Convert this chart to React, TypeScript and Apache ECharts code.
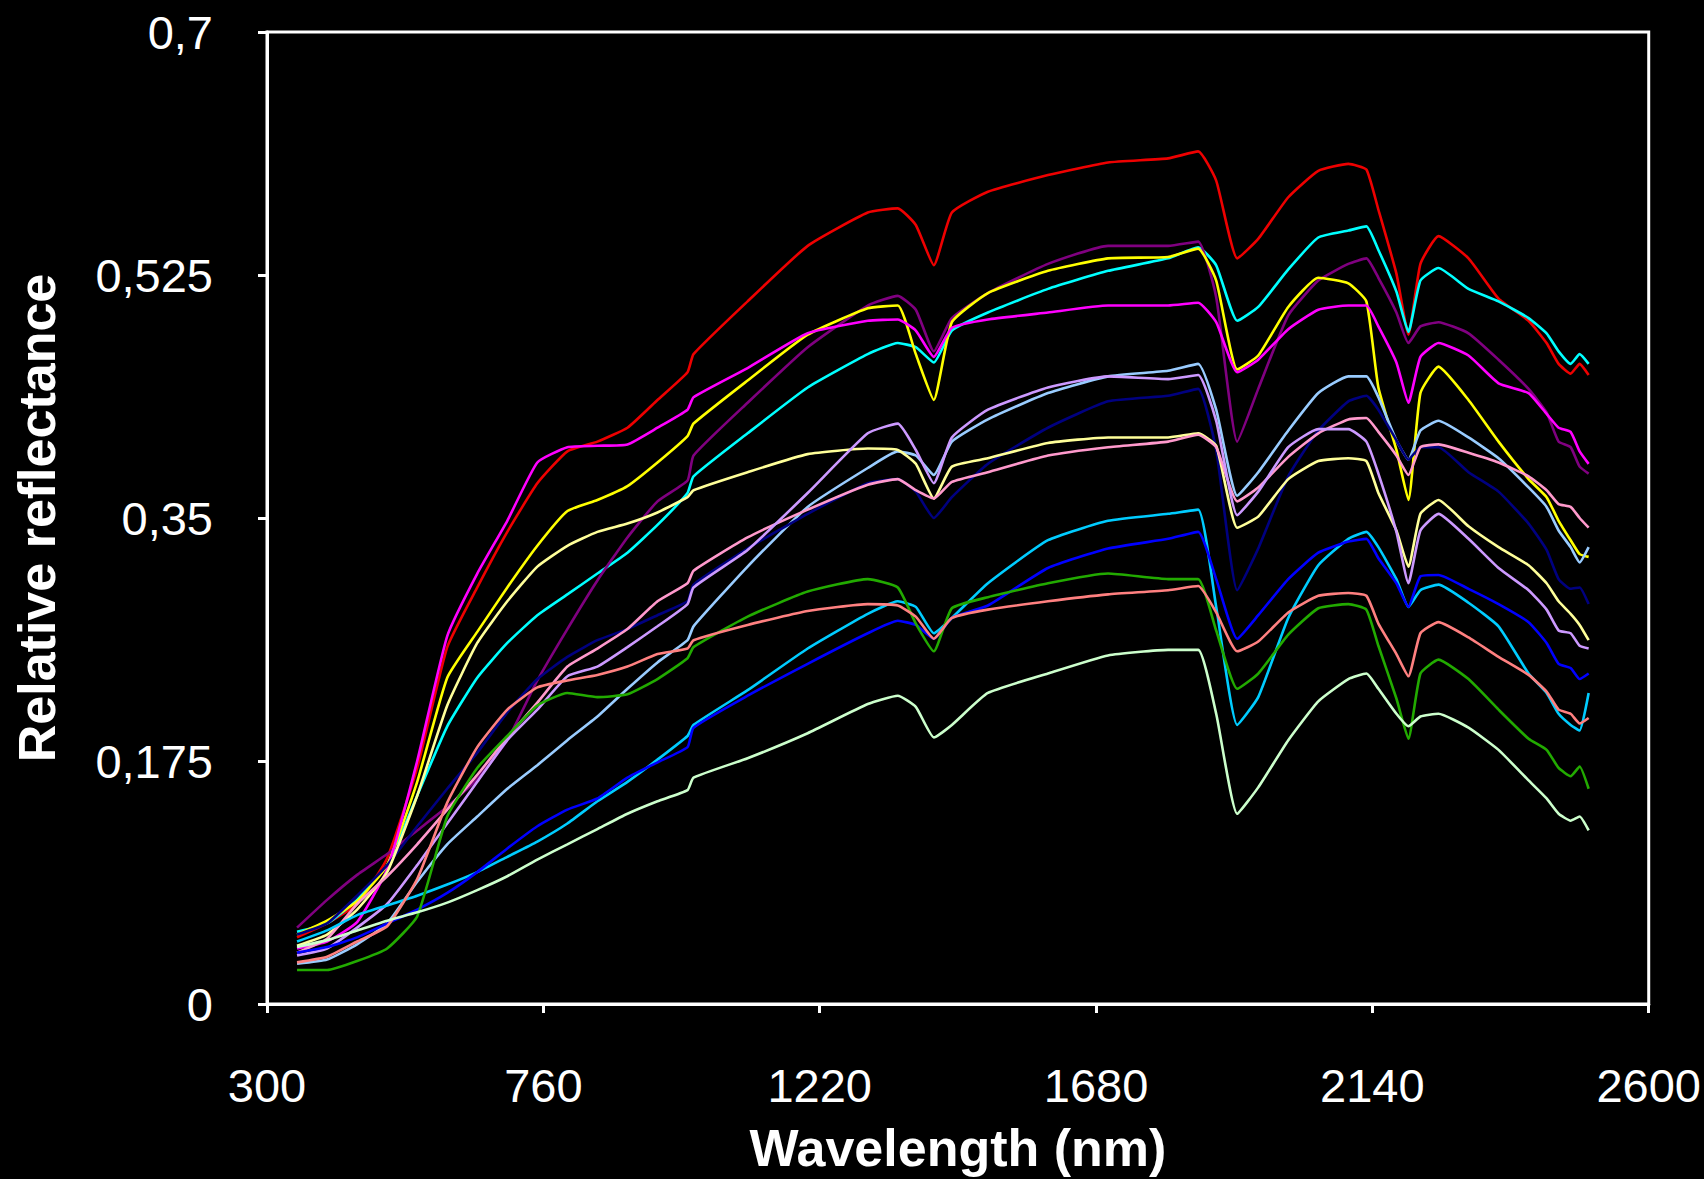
import React, { useEffect, useRef } from "react";
import * as echarts from "echarts";

const wavelengths = [350, 400, 450, 500, 550, 600, 650, 700, 750, 800, 850, 900, 950, 1000, 1010, 1100, 1200, 1300, 1350, 1380, 1410, 1440, 1500, 1600, 1700, 1800, 1850, 1880, 1915, 1950, 2000, 2050, 2100, 2130, 2150, 2180, 2200, 2220, 2250, 2300, 2350, 2400, 2430, 2450, 2470, 2485, 2500];

const xTickValues = [300, 760, 1220, 1680, 2140, 2600];

const red = [0.048, 0.058, 0.072, 0.105, 0.17, 0.257, 0.3, 0.34, 0.375, 0.398, 0.405, 0.415, 0.435, 0.455, 0.468, 0.506, 0.546, 0.57, 0.573, 0.561, 0.532, 0.57, 0.585, 0.597, 0.606, 0.609, 0.614, 0.593, 0.537, 0.551, 0.581, 0.6, 0.605, 0.601, 0.572, 0.526, 0.482, 0.533, 0.553, 0.537, 0.508, 0.492, 0.476, 0.461, 0.454, 0.461, 0.453];
const cyan = [0.052, 0.058, 0.075, 0.1, 0.15, 0.2, 0.235, 0.26, 0.28, 0.295, 0.31, 0.325, 0.345, 0.368, 0.38, 0.411, 0.444, 0.468, 0.476, 0.473, 0.462, 0.485, 0.498, 0.515, 0.528, 0.537, 0.545, 0.532, 0.492, 0.502, 0.529, 0.552, 0.557, 0.56, 0.543, 0.513, 0.484, 0.521, 0.53, 0.515, 0.506, 0.494, 0.483, 0.47, 0.461, 0.468, 0.461];
const purple = [0.055, 0.075, 0.093, 0.108, 0.125, 0.142, 0.162, 0.19, 0.233, 0.27, 0.305, 0.336, 0.362, 0.377, 0.395, 0.433, 0.473, 0.503, 0.51, 0.5, 0.47, 0.494, 0.512, 0.533, 0.546, 0.546, 0.549, 0.509, 0.405, 0.443, 0.496, 0.521, 0.533, 0.537, 0.523, 0.498, 0.476, 0.488, 0.491, 0.483, 0.464, 0.443, 0.426, 0.405, 0.401, 0.387, 0.382];
const yellow = [0.05, 0.06, 0.074, 0.1, 0.16, 0.235, 0.268, 0.3, 0.33, 0.355, 0.363, 0.373, 0.39, 0.409, 0.418, 0.449, 0.482, 0.501, 0.503, 0.468, 0.435, 0.491, 0.512, 0.528, 0.537, 0.538, 0.544, 0.521, 0.457, 0.467, 0.502, 0.523, 0.519, 0.506, 0.444, 0.399, 0.363, 0.44, 0.459, 0.435, 0.405, 0.378, 0.365, 0.348, 0.334, 0.324, 0.322];
const magenta = [0.04, 0.045, 0.059, 0.097, 0.175, 0.265, 0.31, 0.348, 0.39, 0.401, 0.402, 0.403, 0.415, 0.428, 0.437, 0.458, 0.483, 0.492, 0.493, 0.485, 0.466, 0.487, 0.493, 0.498, 0.503, 0.503, 0.505, 0.491, 0.455, 0.464, 0.486, 0.5, 0.503, 0.503, 0.488, 0.462, 0.433, 0.466, 0.476, 0.467, 0.447, 0.44, 0.425, 0.415, 0.412, 0.398, 0.389];
const lightBlue = [0.029, 0.032, 0.043, 0.058, 0.088, 0.115, 0.135, 0.155, 0.172, 0.19, 0.207, 0.227, 0.246, 0.262, 0.272, 0.315, 0.358, 0.386, 0.398, 0.395, 0.381, 0.405, 0.421, 0.44, 0.452, 0.456, 0.461, 0.428, 0.366, 0.383, 0.413, 0.44, 0.452, 0.452, 0.437, 0.406, 0.392, 0.413, 0.42, 0.408, 0.393, 0.372, 0.358, 0.341, 0.329, 0.318, 0.329];
const navy = [0.05, 0.058, 0.078, 0.1, 0.128, 0.155, 0.181, 0.21, 0.234, 0.25, 0.262, 0.27, 0.28, 0.29, 0.302, 0.328, 0.353, 0.375, 0.378, 0.369, 0.35, 0.365, 0.389, 0.415, 0.434, 0.438, 0.443, 0.399, 0.298, 0.328, 0.38, 0.413, 0.434, 0.438, 0.428, 0.406, 0.392, 0.401, 0.401, 0.383, 0.369, 0.346, 0.327, 0.306, 0.299, 0.3, 0.288];
const lightYellow = [0.042, 0.05, 0.068, 0.095, 0.15, 0.215, 0.26, 0.29, 0.315, 0.33, 0.34, 0.346, 0.354, 0.365, 0.37, 0.383, 0.396, 0.4, 0.399, 0.389, 0.364, 0.387, 0.393, 0.404, 0.408, 0.408, 0.411, 0.402, 0.343, 0.351, 0.378, 0.391, 0.393, 0.391, 0.368, 0.341, 0.315, 0.353, 0.363, 0.344, 0.329, 0.316, 0.303, 0.29, 0.281, 0.273, 0.262];
const pink = [0.037, 0.047, 0.072, 0.092, 0.115, 0.14, 0.165, 0.192, 0.217, 0.243, 0.256, 0.27, 0.29, 0.303, 0.312, 0.336, 0.356, 0.374, 0.378, 0.37, 0.364, 0.376, 0.383, 0.395, 0.401, 0.405, 0.41, 0.401, 0.362, 0.372, 0.394, 0.411, 0.421, 0.422, 0.412, 0.395, 0.381, 0.401, 0.403, 0.397, 0.39, 0.38, 0.37, 0.36, 0.358, 0.35, 0.343];
const lavender = [0.035, 0.04, 0.055, 0.072, 0.1, 0.13, 0.16, 0.19, 0.212, 0.236, 0.243, 0.257, 0.272, 0.288, 0.3, 0.327, 0.368, 0.411, 0.418, 0.399, 0.375, 0.408, 0.428, 0.444, 0.452, 0.45, 0.453, 0.42, 0.352, 0.369, 0.401, 0.414, 0.414, 0.405, 0.382, 0.34, 0.303, 0.341, 0.353, 0.335, 0.314, 0.298, 0.284, 0.269, 0.267, 0.258, 0.256];
const skyBlue = [0.045, 0.053, 0.064, 0.071, 0.078, 0.086, 0.095, 0.106, 0.117, 0.13, 0.146, 0.16, 0.176, 0.193, 0.201, 0.226, 0.256, 0.281, 0.29, 0.286, 0.267, 0.278, 0.303, 0.334, 0.348, 0.353, 0.356, 0.286, 0.201, 0.221, 0.278, 0.316, 0.335, 0.34, 0.329, 0.306, 0.286, 0.298, 0.302, 0.289, 0.272, 0.238, 0.224, 0.209, 0.201, 0.197, 0.224];
const blue = [0.037, 0.041, 0.048, 0.058, 0.068, 0.08, 0.095, 0.112, 0.128, 0.14, 0.148, 0.163, 0.174, 0.185, 0.199, 0.222, 0.245, 0.267, 0.276, 0.273, 0.263, 0.278, 0.287, 0.314, 0.328, 0.335, 0.34, 0.306, 0.263, 0.28, 0.306, 0.325, 0.333, 0.335, 0.321, 0.303, 0.286, 0.308, 0.309, 0.299, 0.288, 0.275, 0.26, 0.245, 0.242, 0.234, 0.238];
const green = [0.0245, 0.0245, 0.031, 0.04, 0.063, 0.135, 0.17, 0.193, 0.215, 0.224, 0.221, 0.223, 0.234, 0.249, 0.257, 0.279, 0.297, 0.306, 0.3, 0.274, 0.254, 0.285, 0.293, 0.303, 0.31, 0.306, 0.306, 0.269, 0.227, 0.238, 0.266, 0.285, 0.288, 0.284, 0.258, 0.22, 0.191, 0.238, 0.248, 0.234, 0.212, 0.191, 0.183, 0.17, 0.164, 0.171, 0.155];
const salmon = [0.03, 0.034, 0.045, 0.056, 0.09, 0.145, 0.185, 0.212, 0.228, 0.233, 0.237, 0.243, 0.252, 0.256, 0.262, 0.273, 0.283, 0.288, 0.287, 0.279, 0.263, 0.278, 0.284, 0.29, 0.295, 0.298, 0.301, 0.282, 0.254, 0.261, 0.282, 0.294, 0.296, 0.294, 0.274, 0.252, 0.236, 0.267, 0.275, 0.264, 0.25, 0.237, 0.225, 0.212, 0.209, 0.202, 0.206];
const paleGreen = [0.041, 0.046, 0.053, 0.06, 0.066, 0.073, 0.082, 0.092, 0.104, 0.115, 0.126, 0.137, 0.146, 0.154, 0.163, 0.177, 0.195, 0.216, 0.222, 0.214, 0.192, 0.201, 0.224, 0.238, 0.251, 0.255, 0.255, 0.209, 0.137, 0.156, 0.19, 0.218, 0.234, 0.238, 0.227, 0.209, 0.2, 0.207, 0.209, 0.199, 0.183, 0.161, 0.148, 0.137, 0.132, 0.135, 0.125];

const seriesList: { name: string; color: string; values: number[] }[] = [
  { name: "Sample 1", color: "#EE0000", values: red },
  { name: "Sample 2", color: "#00FFFF", values: cyan },
  { name: "Sample 3", color: "#800080", values: purple },
  { name: "Sample 4", color: "#FFFF00", values: yellow },
  { name: "Sample 5", color: "#FF00FF", values: magenta },
  { name: "Sample 6", color: "#99CCFF", values: lightBlue },
  { name: "Sample 7", color: "#000080", values: navy },
  { name: "Sample 8", color: "#FFFF99", values: lightYellow },
  { name: "Sample 9", color: "#FF99CC", values: pink },
  { name: "Sample 10", color: "#CC99FF", values: lavender },
  { name: "Sample 11", color: "#00CCFF", values: skyBlue },
  { name: "Sample 12", color: "#0000FF", values: blue },
  { name: "Sample 13", color: "#22AA00", values: green },
  { name: "Sample 14", color: "#FF8080", values: salmon },
  { name: "Sample 15", color: "#CCFFCC", values: paleGreen },
];

const FONT = "'Liberation Sans', Arial, Helvetica, sans-serif";

function formatComma(v: number): string {
  const s = String(Number(v.toFixed(3)));
  return s.replace(".", ",");
}

export default function App() {
  const ref = useRef<HTMLDivElement | null>(null);

  useEffect(() => {
    if (!ref.current) return;
    const chart = echarts.init(ref.current, undefined, { renderer: "svg" });
    const option: any = {
      animation: false,
      backgroundColor: "#000000",
      grid: {
        left: 267,
        top: 32,
        width: 1387,
        height: 972,
        show: true,
        borderColor: "#ffffff",
        borderWidth: 3,
        backgroundColor: "transparent",
      },
      xAxis: {
        type: "value",
        min: 300,
        max: 2600,
        name: "Wavelength (nm)",
        nameLocation: "middle",
        nameGap: 118,
        nameTextStyle: { color: "#ffffff", fontSize: 52, fontWeight: "bold", fontFamily: FONT },
        axisLine: { show: true, onZero: false, lineStyle: { color: "#ffffff", width: 3 } },
        axisTick: { show: true, inside: false, length: 9, lineStyle: { color: "#ffffff", width: 3 }, customValues: xTickValues },
        axisLabel: {
          color: "#ffffff",
          fontSize: 47,
          margin: 58,
          fontFamily: FONT,
          customValues: xTickValues,
          formatter: (v: number) => String(Math.round(v)),
        },
        splitLine: { show: false },
      },
      yAxis: {
        type: "value",
        min: 0,
        max: 0.7,
        interval: 0.175,
        name: "Relative reflectance",
        nameLocation: "middle",
        nameGap: 204,
        nameRotate: 90,
        nameTextStyle: { color: "#ffffff", fontSize: 52, fontWeight: "bold", fontFamily: FONT },
        axisLine: { show: true, onZero: false, lineStyle: { color: "#ffffff", width: 3 } },
        axisTick: { show: true, inside: false, length: 9, lineStyle: { color: "#ffffff", width: 3 } },
        axisLabel: { color: "#ffffff", fontSize: 47, margin: 54, fontFamily: FONT, formatter: (v: number) => formatComma(v) },
        splitLine: { show: false },
      },
      series: seriesList.map((s) => ({
        name: s.name,
        type: "line",
        data: wavelengths.map((w, i) => [w, s.values[i]]),
        showSymbol: false,
        symbol: "none",
        smooth: 0.15,
        lineStyle: { color: s.color, width: 2.6 },
        itemStyle: { color: s.color },
        silent: true,
      })),
    };
    chart.setOption(option);
    return () => {
      chart.dispose();
    };
  }, []);

  return (
    <div
      ref={ref}
      style={{ position: "absolute", left: 0, top: 0, width: 1704, height: 1179, background: "#000000" }}
    />
  );
}
